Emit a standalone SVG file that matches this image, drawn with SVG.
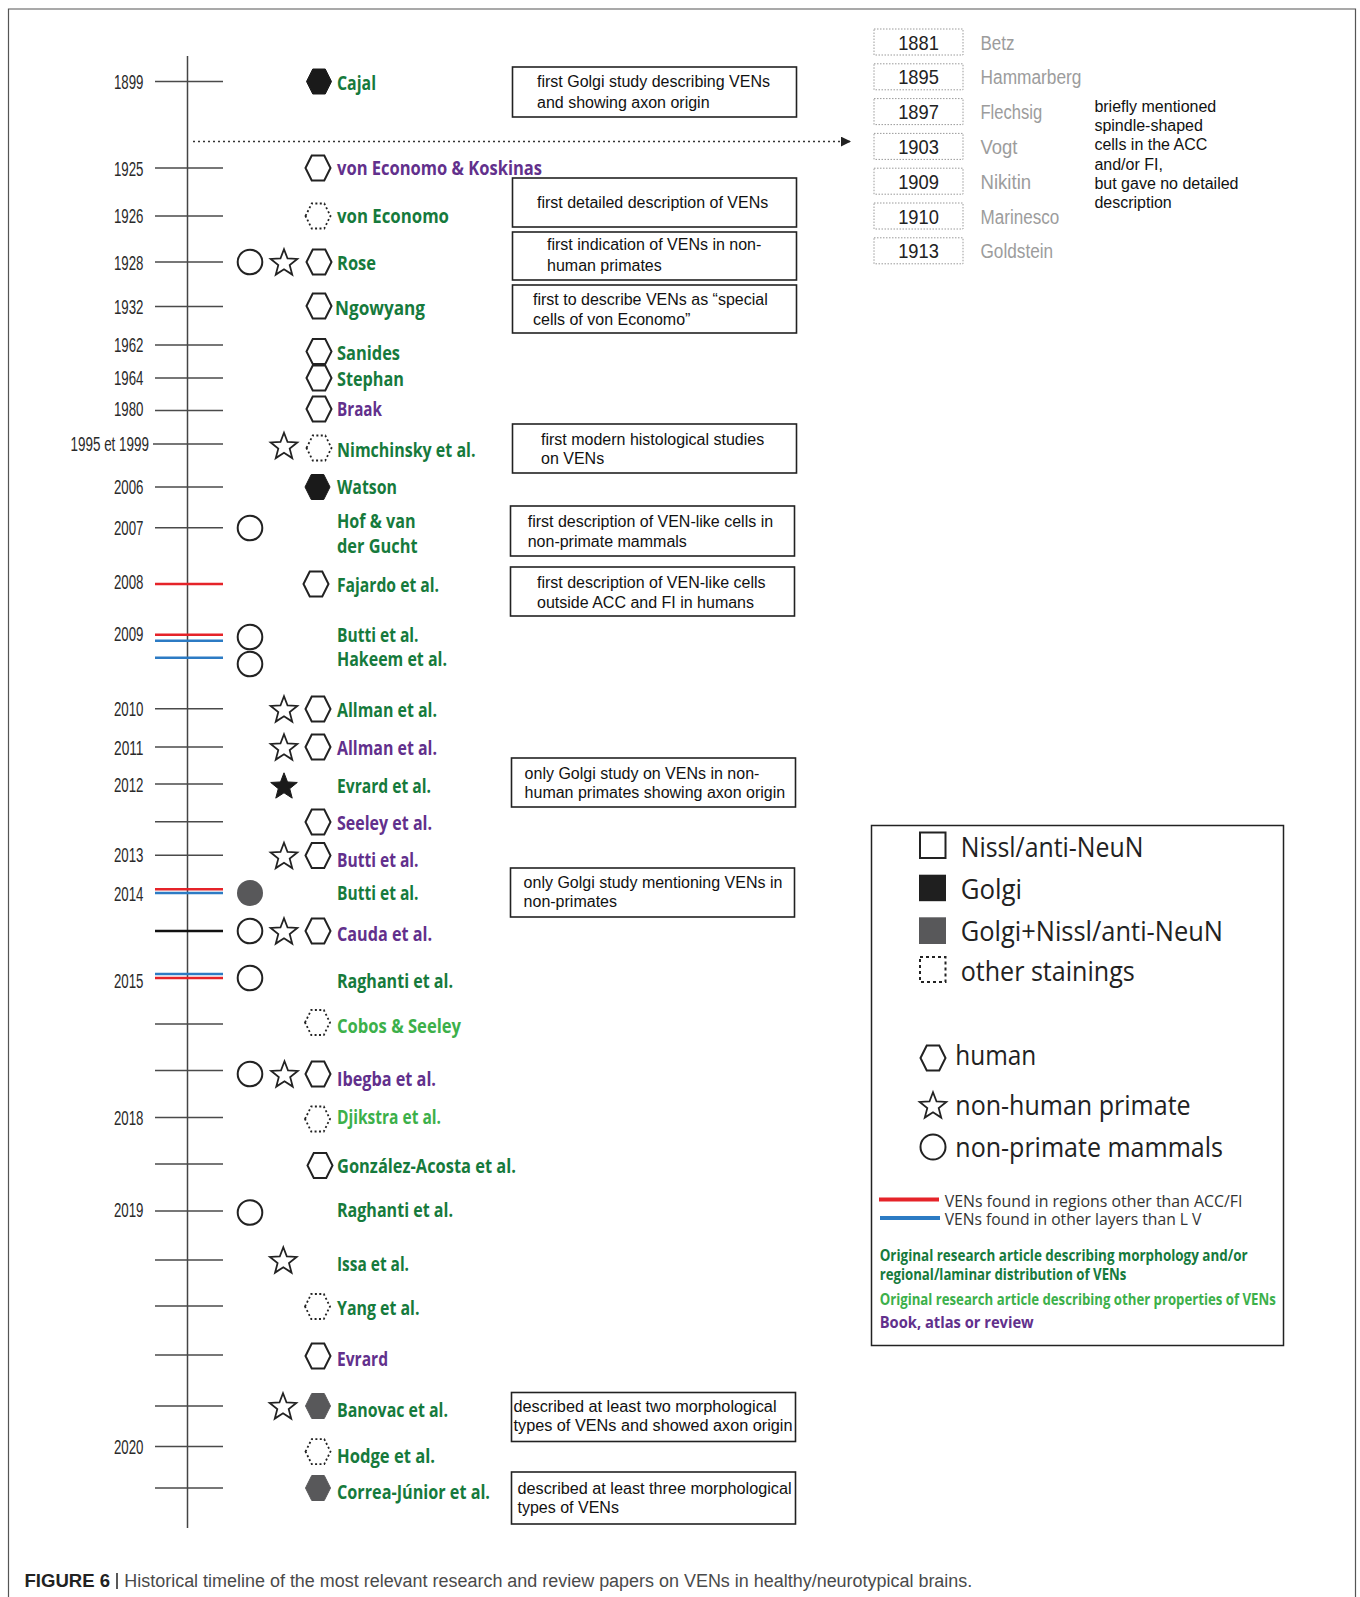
<svg xmlns="http://www.w3.org/2000/svg" xmlns:xlink="http://www.w3.org/1999/xlink" width="1360" height="1597" viewBox="0 0 1360 1597">
<style>
.tk{stroke:#4a4a4a;stroke-width:1.5;fill:none}
.red{stroke:#e52329;stroke-width:2.5;fill:none}
.blu{stroke:#2c7bc4;stroke-width:2.5;fill:none}
.yr{font-family:"Liberation Sans",Arial,sans-serif;font-size:20px;fill:#2a2a2a;text-anchor:end}
.nm{font-family:"Open Sans","Noto Sans",sans-serif;font-weight:700;font-size:20px}
.dg{fill:#167a3c}
.pu{fill:#62308c}
.lg{fill:#3cb04a}
.bx{fill:#fff;stroke:#222;stroke-width:1.6}
.bt{font-family:"Liberation Sans",Arial,sans-serif;font-size:16px;fill:#111}
.hxo{fill:#fff;stroke:#222;stroke-width:2}
.hxd{fill:#fff;stroke:#222;stroke-width:1.8;stroke-dasharray:2 2.4}
.hxb{fill:#1a1a1a;stroke:#1a1a1a;stroke-width:1}
.hxg{fill:#58585a;stroke:#58585a;stroke-width:1}
.st{fill:#fff;stroke:#222;stroke-width:1.8;stroke-linejoin:miter}
.stb{fill:#1a1a1a;stroke:#1a1a1a;stroke-width:1}
.ci{fill:#fff;stroke:#222;stroke-width:2}
.cig{fill:#58585a}
.yb{fill:#fff;stroke:#9a9a9a;stroke-width:1;stroke-dasharray:1.5 1.5}
.yt{font-family:"Liberation Sans",Arial,sans-serif;font-size:21px;fill:#222;text-anchor:middle}
.yn{font-family:"Liberation Sans",Arial,sans-serif;font-size:20px;fill:#9c9c9c}
.lt{font-family:"Open Sans","Noto Sans",sans-serif;font-size:27px;fill:#222}
.ll{font-family:"Open Sans","Noto Sans",sans-serif;font-size:16.5px;fill:#333}
.lc{font-family:"Open Sans","Noto Sans",sans-serif;font-weight:700;font-size:16px}
</style>
<defs>
<polygon id="hx" points="-12.5,0 -6.25,-12.5 6.25,-12.5 12.5,0 6.25,12.5 -6.25,12.5"/>
<polygon id="sr" points="0,-12.7 3.53,-3.55 13.31,-3.03 5.71,3.15 8.23,12.63 0,7.3 -8.23,12.63 -5.71,3.15 -13.31,-3.03 -3.53,-3.55"/>
<marker id="ah" markerWidth="12" markerHeight="12" refX="10" refY="5" orient="auto" markerUnits="userSpaceOnUse">
<path d="M0,0 L10,5 L0,10 z" fill="#222"/>
</marker>
</defs>
<rect width="1360" height="1597" fill="#fff"/>
<path d="M8.5,1597 V9 H1355.5 V1597" fill="none" stroke="#555" stroke-width="1.2"/>

<g id="axis">
<line x1="187.5" y1="56" x2="187.5" y2="1528" stroke="#444" stroke-width="1.5"/>
</g>

<g id="connectors">
<line x1="193" y1="141.6" x2="851" y2="141.6" stroke="#333" stroke-width="1.5" stroke-dasharray="2 3" marker-end="url(#ah)"/>
</g>

<g id="ticks">
<line class="tk" x1="155" x2="223" y1="81.5" y2="81.5"/>
<line class="tk" x1="155" x2="223" y1="168" y2="168"/>
<line class="tk" x1="155" x2="223" y1="216" y2="216"/>
<line class="tk" x1="155" x2="223" y1="262" y2="262"/>
<line class="tk" x1="155" x2="223" y1="306.6" y2="306.6"/>
<line class="tk" x1="155" x2="223" y1="345" y2="345"/>
<line class="tk" x1="155" x2="223" y1="378" y2="378"/>
<line class="tk" x1="155" x2="223" y1="410.5" y2="410.5"/>
<line class="tk" x1="153" x2="223" y1="444" y2="444"/>
<line class="tk" x1="155" x2="223" y1="487" y2="487"/>
<line class="tk" x1="155" x2="223" y1="527.7" y2="527.7"/>
<line class="red" x1="155" x2="223" y1="584" y2="584"/>
<line class="red" x1="155" x2="223" y1="634.7" y2="634.7"/>
<line class="blu" x1="155" x2="223" y1="640.7" y2="640.7"/>
<line class="blu" x1="155" x2="223" y1="657.7" y2="657.7"/>
<line class="tk" x1="155" x2="223" y1="708.7" y2="708.7"/>
<line class="tk" x1="155" x2="223" y1="747" y2="747"/>
<line class="tk" x1="155" x2="223" y1="784" y2="784"/>
<line class="tk" x1="155" x2="223" y1="821.7" y2="821.7"/>
<line class="tk" x1="155" x2="223" y1="855.3" y2="855.3"/>
<line class="red" x1="155" x2="223" y1="889.3" y2="889.3"/>
<line class="blu" x1="155" x2="223" y1="893" y2="893"/>
<line x1="155" x2="223" y1="931" y2="931" stroke="#111" stroke-width="2.5"/>
<line class="blu" x1="155" x2="223" y1="974" y2="974"/>
<line class="red" x1="155" x2="223" y1="978" y2="978"/>
<line class="tk" x1="155" x2="223" y1="1024" y2="1024"/>
<line class="tk" x1="155" x2="223" y1="1070.6" y2="1070.6"/>
<line class="tk" x1="155" x2="223" y1="1117.5" y2="1117.5"/>
<line class="tk" x1="155" x2="223" y1="1164" y2="1164"/>
<line class="tk" x1="155" x2="223" y1="1211" y2="1211"/>
<line class="tk" x1="155" x2="223" y1="1260" y2="1260"/>
<line class="tk" x1="155" x2="223" y1="1306" y2="1306"/>
<line class="tk" x1="155" x2="223" y1="1355" y2="1355"/>
<line class="tk" x1="155" x2="223" y1="1406" y2="1406"/>
<line class="tk" x1="155" x2="223" y1="1446.5" y2="1446.5"/>
<line class="tk" x1="155" x2="223" y1="1488" y2="1488"/>
</g>

<g id="years">
<text class="yr" x="143.5" y="88.5" textLength="29.5" lengthAdjust="spacingAndGlyphs">1899</text>
<text class="yr" x="143.5" y="176" textLength="29.5" lengthAdjust="spacingAndGlyphs">1925</text>
<text class="yr" x="143.5" y="223" textLength="29.5" lengthAdjust="spacingAndGlyphs">1926</text>
<text class="yr" x="143.5" y="269.5" textLength="29.5" lengthAdjust="spacingAndGlyphs">1928</text>
<text class="yr" x="143.5" y="314" textLength="29.5" lengthAdjust="spacingAndGlyphs">1932</text>
<text class="yr" x="143.5" y="351.5" textLength="29.5" lengthAdjust="spacingAndGlyphs">1962</text>
<text class="yr" x="143.5" y="385" textLength="29.5" lengthAdjust="spacingAndGlyphs">1964</text>
<text class="yr" x="143.5" y="416" textLength="29.5" lengthAdjust="spacingAndGlyphs">1980</text>
<text class="yr" x="149" y="450.5" textLength="78.5" lengthAdjust="spacingAndGlyphs">1995 et 1999</text>
<text class="yr" x="143.5" y="494" textLength="29.5" lengthAdjust="spacingAndGlyphs">2006</text>
<text class="yr" x="143.5" y="534.7" textLength="29.5" lengthAdjust="spacingAndGlyphs">2007</text>
<text class="yr" x="143.5" y="589" textLength="29.5" lengthAdjust="spacingAndGlyphs">2008</text>
<text class="yr" x="143.5" y="641" textLength="29.5" lengthAdjust="spacingAndGlyphs">2009</text>
<text class="yr" x="143.5" y="716" textLength="29.5" lengthAdjust="spacingAndGlyphs">2010</text>
<text class="yr" x="143.5" y="755" textLength="29.5" lengthAdjust="spacingAndGlyphs">2011</text>
<text class="yr" x="143.5" y="792.3" textLength="29.5" lengthAdjust="spacingAndGlyphs">2012</text>
<text class="yr" x="143.5" y="861.7" textLength="29.5" lengthAdjust="spacingAndGlyphs">2013</text>
<text class="yr" x="143.5" y="900.7" textLength="29.5" lengthAdjust="spacingAndGlyphs">2014</text>
<text class="yr" x="143.5" y="987.7" textLength="29.5" lengthAdjust="spacingAndGlyphs">2015</text>
<text class="yr" x="143.5" y="1124.5" textLength="29.5" lengthAdjust="spacingAndGlyphs">2018</text>
<text class="yr" x="143.5" y="1217" textLength="29.5" lengthAdjust="spacingAndGlyphs">2019</text>
<text class="yr" x="143.5" y="1453.5" textLength="29.5" lengthAdjust="spacingAndGlyphs">2020</text>
</g>

<g id="n-cajal"><use href="#hx" class="hxb" x="319" y="81.5"/><text class="nm dg" x="337" y="89.5" textLength="39" lengthAdjust="spacingAndGlyphs">Cajal</text></g>
<g id="n-voneconomo-koskinas"><use href="#hx" class="hxo" x="318" y="168"/><text class="nm pu" x="337" y="174.5" textLength="205" lengthAdjust="spacingAndGlyphs">von Economo &amp; Koskinas</text></g>
<g id="n-voneconomo"><use href="#hx" class="hxd" x="318" y="216"/><text class="nm dg" x="337" y="223" textLength="112" lengthAdjust="spacingAndGlyphs">von Economo</text></g>
<g id="n-rose"><circle class="ci" cx="250" cy="262" r="12.3"/><use href="#sr" class="st" x="284" y="262"/><use href="#hx" class="hxo" x="319" y="262"/><text class="nm dg" x="337" y="270" textLength="39" lengthAdjust="spacingAndGlyphs">Rose</text></g>
<g id="n-ngowyang"><use href="#hx" class="hxo" x="319" y="306"/><text class="nm dg" x="335" y="314.5" textLength="90" lengthAdjust="spacingAndGlyphs">Ngowyang</text></g>
<g id="n-sanides"><use href="#hx" class="hxo" x="319" y="351.5"/><text class="nm dg" x="337" y="359.5" textLength="63" lengthAdjust="spacingAndGlyphs">Sanides</text></g>
<g id="n-stephan"><use href="#hx" class="hxo" x="319" y="378"/><text class="nm dg" x="337" y="385.5" textLength="67" lengthAdjust="spacingAndGlyphs">Stephan</text></g>
<g id="n-braak"><use href="#hx" class="hxo" x="319" y="409"/><text class="nm pu" x="337" y="415.5" textLength="45" lengthAdjust="spacingAndGlyphs">Braak</text></g>
<g id="n-nimchinsky"><use href="#sr" class="st" x="284" y="445.5"/><use href="#hx" class="hxd" x="319" y="448"/><text class="nm dg" x="337" y="456.7" textLength="138.5" lengthAdjust="spacingAndGlyphs">Nimchinsky et al.</text></g>
<g id="n-watson"><use href="#hx" class="hxb" x="317.5" y="487"/><text class="nm dg" x="337" y="493.5" textLength="60" lengthAdjust="spacingAndGlyphs">Watson</text></g>
<g id="n-hof"><circle class="ci" cx="250" cy="528" r="12.3"/><text class="nm dg" x="337" y="528.3" textLength="78.5" lengthAdjust="spacingAndGlyphs">Hof &amp; van</text><text class="nm dg" x="337" y="552.7" textLength="80.5" lengthAdjust="spacingAndGlyphs">der Gucht</text></g>
<g id="n-fajardo"><use href="#hx" class="hxo" x="316" y="584"/><text class="nm dg" x="337" y="591.7" textLength="102" lengthAdjust="spacingAndGlyphs">Fajardo et al.</text></g>
<g id="n-butti2009"><circle class="ci" cx="250" cy="637" r="12.3"/><text class="nm dg" x="337" y="641.7" textLength="81.5" lengthAdjust="spacingAndGlyphs">Butti et al.</text></g>
<g id="n-hakeem"><circle class="ci" cx="250" cy="664" r="12.3"/><text class="nm dg" x="337" y="666" textLength="110" lengthAdjust="spacingAndGlyphs">Hakeem et al.</text></g>
<g id="n-allman2010"><use href="#sr" class="st" x="284" y="709"/><use href="#hx" class="hxo" x="318" y="709"/><text class="nm dg" x="337" y="716.7" textLength="100" lengthAdjust="spacingAndGlyphs">Allman et al.</text></g>
<g id="n-allman2011"><use href="#sr" class="st" x="284" y="747"/><use href="#hx" class="hxo" x="318" y="747"/><text class="nm pu" x="337" y="755" textLength="100" lengthAdjust="spacingAndGlyphs">Allman et al.</text></g>
<g id="n-evrard2012"><use href="#sr" class="stb" x="284" y="785.5"/><text class="nm dg" x="337" y="792.7" textLength="94" lengthAdjust="spacingAndGlyphs">Evrard et al.</text></g>
<g id="n-seeley"><use href="#hx" class="hxo" x="318" y="822"/><text class="nm pu" x="337" y="830" textLength="95" lengthAdjust="spacingAndGlyphs">Seeley et al.</text></g>
<g id="n-butti2013"><use href="#sr" class="st" x="284" y="855.5"/><use href="#hx" class="hxo" x="318" y="855.5"/><text class="nm pu" x="337" y="866.7" textLength="81.5" lengthAdjust="spacingAndGlyphs">Butti et al.</text></g>
<g id="n-butti2014"><circle class="cig" cx="250" cy="893" r="13"/><text class="nm dg" x="337" y="900" textLength="81.5" lengthAdjust="spacingAndGlyphs">Butti et al.</text></g>
<g id="n-cauda"><circle class="ci" cx="250" cy="931" r="12.3"/><use href="#sr" class="st" x="284" y="931"/><use href="#hx" class="hxo" x="318" y="931"/><text class="nm pu" x="337" y="941" textLength="95" lengthAdjust="spacingAndGlyphs">Cauda et al.</text></g>
<g id="n-raghanti2015"><circle class="ci" cx="250" cy="978" r="12.3"/><text class="nm dg" x="337" y="987.7" textLength="116" lengthAdjust="spacingAndGlyphs">Raghanti et al.</text></g>
<g id="n-cobos"><use href="#hx" class="hxd" x="317.5" y="1022.5"/><text class="nm lg" x="337" y="1033.3" textLength="124" lengthAdjust="spacingAndGlyphs">Cobos &amp; Seeley</text></g>
<g id="n-ibegba"><circle class="ci" cx="250" cy="1074" r="12.3"/><use href="#sr" class="st" x="284.5" y="1074"/><use href="#hx" class="hxo" x="318" y="1074"/><text class="nm pu" x="337" y="1086" textLength="99" lengthAdjust="spacingAndGlyphs">Ibegba et al.</text></g>
<g id="n-djikstra"><use href="#hx" class="hxd" x="317.5" y="1119"/><text class="nm lg" x="337" y="1124.3" textLength="104" lengthAdjust="spacingAndGlyphs">Djikstra et al.</text></g>
<g id="n-gonzalez"><use href="#hx" class="hxo" x="320" y="1165.5"/><text class="nm dg" x="337" y="1173.3" textLength="179" lengthAdjust="spacingAndGlyphs">González-Acosta et al.</text></g>
<g id="n-raghanti2019"><circle class="ci" cx="250" cy="1212.5" r="12.3"/><text class="nm dg" x="337" y="1217.3" textLength="116" lengthAdjust="spacingAndGlyphs">Raghanti et al.</text></g>
<g id="n-issa"><use href="#sr" class="st" x="283.3" y="1260"/><text class="nm dg" x="337" y="1271" textLength="72" lengthAdjust="spacingAndGlyphs">Issa et al.</text></g>
<g id="n-yang"><use href="#hx" class="hxd" x="317.5" y="1306.5"/><text class="nm dg" x="337" y="1315" textLength="82.5" lengthAdjust="spacingAndGlyphs">Yang et al.</text></g>
<g id="n-evrard"><use href="#hx" class="hxo" x="318" y="1356"/><text class="nm pu" x="337" y="1366" textLength="51" lengthAdjust="spacingAndGlyphs">Evrard</text></g>
<g id="n-banovac"><use href="#sr" class="st" x="283" y="1406"/><use href="#hx" class="hxg" x="318" y="1406"/><text class="nm dg" x="337" y="1417" textLength="111" lengthAdjust="spacingAndGlyphs">Banovac et al.</text></g>
<g id="n-hodge"><use href="#hx" class="hxd" x="318" y="1451.6"/><text class="nm dg" x="337" y="1463" textLength="98" lengthAdjust="spacingAndGlyphs">Hodge et al.</text></g>
<g id="n-correa"><use href="#hx" class="hxg" x="318" y="1488"/><text class="nm dg" x="337" y="1499" textLength="153" lengthAdjust="spacingAndGlyphs">Correa-Júnior et al.</text></g>

<g id="b1"><rect class="bx" x="512.5" y="67" width="284" height="50"/><text class="bt" x="537" y="87">first Golgi study describing VENs</text><text class="bt" x="537" y="107.5">and showing axon origin</text></g>
<g id="b2"><rect class="bx" x="512.5" y="178" width="284" height="49"/><text class="bt" x="537" y="208">first detailed description of VENs</text></g>
<g id="b3"><rect class="bx" x="512.5" y="232" width="284" height="48"/><text class="bt" x="547" y="250">first indication of VENs in non-</text><text class="bt" x="547" y="270.5">human primates</text></g>
<g id="b4"><rect class="bx" x="512.5" y="285" width="284" height="48"/><text class="bt" x="533" y="305">first to describe VENs as “special</text><text class="bt" x="533" y="324.5">cells of von Economo”</text></g>
<g id="b5"><rect class="bx" x="512.5" y="424" width="284" height="49"/><text class="bt" x="541" y="444.5">first modern histological studies</text><text class="bt" x="541" y="464">on VENs</text></g>
<g id="b6"><rect class="bx" x="510.5" y="506" width="284" height="50"/><text class="bt" x="527.7" y="527">first description of VEN-like cells in</text><text class="bt" x="527.7" y="546.5">non-primate mammals</text></g>
<g id="b7"><rect class="bx" x="510.5" y="567" width="284" height="49"/><text class="bt" x="537" y="588">first description of VEN-like cells</text><text class="bt" x="537" y="607.5">outside ACC and FI in humans</text></g>
<g id="b8"><rect class="bx" x="511.5" y="758" width="284" height="49"/><text class="bt" x="524.6" y="778.5">only Golgi study on VENs in non-</text><text class="bt" x="524.6" y="798">human primates showing axon origin</text></g>
<g id="b9"><rect class="bx" x="510.5" y="868" width="284" height="49"/><text class="bt" x="523.6" y="887.5">only Golgi study mentioning VENs in</text><text class="bt" x="523.6" y="907">non-primates</text></g>
<g id="b10"><rect class="bx" x="511.5" y="1392.5" width="284" height="49"/><text class="bt" x="513.5" y="1411.5" textLength="263" lengthAdjust="spacingAndGlyphs">described at least two morphological</text><text class="bt" x="513.5" y="1430.5" textLength="279" lengthAdjust="spacingAndGlyphs">types of VENs and showed axon origin</text></g>
<g id="b11"><rect class="bx" x="511.5" y="1472" width="284" height="52"/><text class="bt" x="517.5" y="1493.5" textLength="274" lengthAdjust="spacingAndGlyphs">described at least three morphological</text><text class="bt" x="517.5" y="1513">types of VENs</text></g>

<g id="early">
<g id="y1881"><rect class="yb" x="874" y="29" width="89" height="26"/><text class="yt" x="918.5" y="49.5" textLength="40.7" lengthAdjust="spacingAndGlyphs">1881</text><text class="yn" x="980.5" y="49.5" textLength="34" lengthAdjust="spacingAndGlyphs">Betz</text></g>
<g id="y1895"><rect class="yb" x="874" y="63.8" width="89" height="26"/><text class="yt" x="918.5" y="84.3" textLength="40.7" lengthAdjust="spacingAndGlyphs">1895</text><text class="yn" x="980.5" y="84.3" textLength="101" lengthAdjust="spacingAndGlyphs">Hammarberg</text></g>
<g id="y1897"><rect class="yb" x="874" y="98.6" width="89" height="26"/><text class="yt" x="918.5" y="119.1" textLength="40.7" lengthAdjust="spacingAndGlyphs">1897</text><text class="yn" x="980.5" y="119.1" textLength="61.6" lengthAdjust="spacingAndGlyphs">Flechsig</text></g>
<g id="y1903"><rect class="yb" x="874" y="133.4" width="89" height="26"/><text class="yt" x="918.5" y="153.9" textLength="40.7" lengthAdjust="spacingAndGlyphs">1903</text><text class="yn" x="980.5" y="153.9" textLength="37" lengthAdjust="spacingAndGlyphs">Vogt</text></g>
<g id="y1909"><rect class="yb" x="874" y="168.2" width="89" height="26"/><text class="yt" x="918.5" y="188.7" textLength="40.7" lengthAdjust="spacingAndGlyphs">1909</text><text class="yn" x="980.5" y="188.7" textLength="50.6" lengthAdjust="spacingAndGlyphs">Nikitin</text></g>
<g id="y1910"><rect class="yb" x="874" y="203" width="89" height="26"/><text class="yt" x="918.5" y="223.5" textLength="40.7" lengthAdjust="spacingAndGlyphs">1910</text><text class="yn" x="980.5" y="223.5" textLength="78.7" lengthAdjust="spacingAndGlyphs">Marinesco</text></g>
<g id="y1913"><rect class="yb" x="874" y="237.8" width="89" height="26"/><text class="yt" x="918.5" y="258.3" textLength="40.7" lengthAdjust="spacingAndGlyphs">1913</text><text class="yn" x="980.5" y="258.3" textLength="72.6" lengthAdjust="spacingAndGlyphs">Goldstein</text></g>
<g id="early-note">
<text class="bt" x="1094.4" y="111.5">briefly mentioned</text>
<text class="bt" x="1094.4" y="130.5">spindle-shaped</text>
<text class="bt" x="1094.4" y="150">cells in the ACC</text>
<text class="bt" x="1094.4" y="169.5">and/or FI,</text>
<text class="bt" x="1094.4" y="188.5">but gave no detailed</text>
<text class="bt" x="1094.4" y="208">description</text>
</g>
</g>

<g id="legend">
<rect x="871.5" y="825.5" width="412" height="520" fill="#fff" stroke="#222" stroke-width="1.5"/>
<rect x="920" y="832.5" width="25.5" height="25.5" fill="#fff" stroke="#222" stroke-width="2"/>
<text class="lt" x="960.7" y="856.7" textLength="182.7" lengthAdjust="spacingAndGlyphs">Nissl/anti-NeuN</text>
<rect x="919" y="874.7" width="27" height="26.5" fill="#1f1f1f"/>
<text class="lt" x="960.7" y="899.4" textLength="61.3" lengthAdjust="spacingAndGlyphs">Golgi</text>
<rect x="919" y="917.3" width="27" height="26.7" fill="#58585a"/>
<text class="lt" x="960.7" y="940.6" textLength="262.3" lengthAdjust="spacingAndGlyphs">Golgi+Nissl/anti-NeuN</text>
<rect x="920" y="957" width="25.5" height="25" fill="none" stroke="#222" stroke-width="2" stroke-dasharray="3 3"/>
<text class="lt" x="960.7" y="980.5" textLength="174" lengthAdjust="spacingAndGlyphs">other stainings</text>
<use href="#hx" class="hxo" x="933" y="1058"/>
<text class="lt" x="955.3" y="1065" textLength="81" lengthAdjust="spacingAndGlyphs">human</text>
<use href="#sr" class="st" x="933" y="1105"/>
<text class="lt" x="955.3" y="1115" textLength="235.3" lengthAdjust="spacingAndGlyphs">non-human primate</text>
<circle class="ci" cx="933" cy="1147" r="12.5"/>
<text class="lt" x="955.3" y="1156.8" textLength="267.7" lengthAdjust="spacingAndGlyphs">non-primate mammals</text>
<line x1="879" y1="1199.4" x2="939" y2="1199.4" stroke="#e52329" stroke-width="4"/>
<line x1="880" y1="1218" x2="940" y2="1218" stroke="#2c7bc4" stroke-width="4"/>
<text class="ll" x="944.7" y="1206.8" textLength="297.7" lengthAdjust="spacingAndGlyphs">VENs found in regions other than ACC/FI</text>
<text class="ll" x="944.7" y="1225.4" textLength="256.7" lengthAdjust="spacingAndGlyphs">VENs found in other layers than L V</text>
<text class="lc dg" x="879.7" y="1261" textLength="368" lengthAdjust="spacingAndGlyphs">Original research article describing morphology and/or</text>
<text class="lc dg" x="879.7" y="1279.5" textLength="246.7" lengthAdjust="spacingAndGlyphs">regional/laminar distribution of VENs</text>
<text class="lc lg" x="879.7" y="1304.8" textLength="396" lengthAdjust="spacingAndGlyphs">Original research article describing other properties of VENs</text>
<text class="lc pu" x="879.7" y="1328.4" textLength="154" lengthAdjust="spacingAndGlyphs">Book, atlas or review</text>
</g>

<g id="caption">
<text x="24.5" y="1587" font-family="Liberation Sans, Arial, sans-serif" font-size="18" font-weight="bold" fill="#222" textLength="85.5" lengthAdjust="spacingAndGlyphs">FIGURE 6</text>
<line x1="117" y1="1573" x2="117" y2="1589" stroke="#222" stroke-width="1.5"/>
<text x="124.3" y="1587" font-family="Liberation Sans, Arial, sans-serif" font-size="18" fill="#4a4a4a" textLength="848" lengthAdjust="spacingAndGlyphs">Historical timeline of the most relevant research and review papers on VENs in healthy/neurotypical brains.</text>
</g>
</svg>
